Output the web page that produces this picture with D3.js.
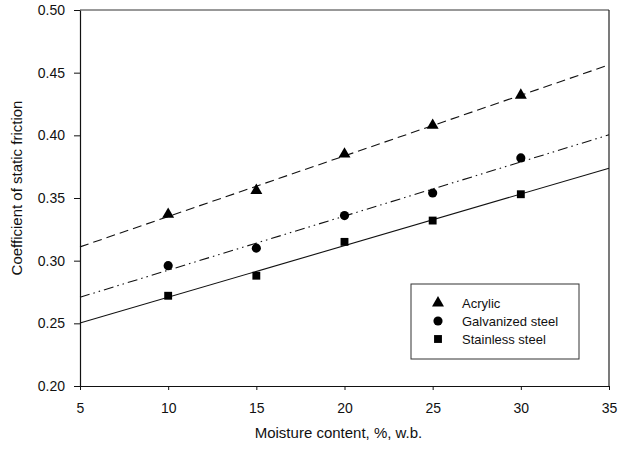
<!DOCTYPE html>
<html>
<head>
<meta charset="utf-8">
<script src="https://cdn.jsdelivr.net/npm/d3@7"></script>
<style>
  body { margin: 0; background: #fff; }
  text { font-family: "Liberation Sans", Arial, sans-serif; fill: #111; }
  .axis path, .axis line { stroke: #111; }
</style>
</head>
<body>
<div id="chart"></div>
<script>
// moisture content levels (% w.b.)
const moisture = [10, 15, 20, 25, 30];
// coefficient of static friction per surface
const acrylic = [0.337, 0.356, 0.385, 0.408, 0.432];
const galvanized = [0.296, 0.310, 0.336, 0.354, 0.382];
const stainless = [0.272, 0.288, 0.315, 0.332, 0.353];
const seriesNames = ['Acrylic', 'Galvanized steel', 'Stainless steel'];
const xTicks = [5, 10, 15, 20, 25, 30, 35];
const yTicks = [0.20, 0.25, 0.30, 0.35, 0.40, 0.45, 0.50];

const width = 618, height = 454;
const margin = { top: 10, right: 9, bottom: 68, left: 80 };
const innerW = width - margin.left - margin.right;
const innerH = height - margin.top - margin.bottom;

const svg = d3.select('#chart').append('svg')
  .attr('width', width)
  .attr('height', height);

const g = svg.append('g')
  .attr('transform', `translate(${margin.left},${margin.top})`);

const x = d3.scaleLinear().domain([5, 35]).range([0, innerW]);
const y = d3.scaleLinear().domain([0.20, 0.50]).range([innerH, 0]);

/* frame (top and right) */
g.append('line').attr('x1', 0).attr('x2', innerW).attr('y1', 0).attr('y2', 0)
  .attr('stroke', '#333').attr('stroke-width', 1);
g.append('line').attr('x1', innerW).attr('x2', innerW).attr('y1', 0).attr('y2', innerH)
  .attr('stroke', '#222').attr('stroke-width', 1.2);

/* axes */
g.append('g').attr('class', 'axis')
  .attr('transform', `translate(0,${innerH})`)
  .call(d3.axisBottom(x).tickValues(xTicks).tickSize(4).tickPadding(13).tickSizeOuter(0))
  .call((a) => a.selectAll('text').attr('font-size', 14));
g.append('g').attr('class', 'axis')
  .call(d3.axisLeft(y).tickValues(yTicks).tickFormat(d3.format('.2f')).tickSize(6).tickPadding(9).tickSizeOuter(0))
  .call((a) => a.selectAll('text').attr('font-size', 14));
g.selectAll('.axis path').attr('stroke-width', 1.2);

/* axis titles */
svg.append('text')
  .attr('x', margin.left + innerW / 2 - 6)
  .attr('y', 438)
  .attr('text-anchor', 'middle')
  .attr('font-size', 15)
  .text('Moisture content, %, w.b.');
svg.append('text')
  .attr('transform', `translate(22, ${margin.top + innerH / 2 - 10}) rotate(-90)`)
  .attr('text-anchor', 'middle')
  .attr('font-size', 15)
  .text('Coefficient of static friction');

/* least-squares fit lines over the full x range */
function fit(ys) {
  const mx = d3.mean(moisture), my = d3.mean(ys);
  const slope = d3.sum(moisture, (m, i) => (m - mx) * (ys[i] - my)) / d3.sum(moisture, (m) => (m - mx) ** 2);
  return (v) => my + slope * (v - mx);
}

const series = [
  { name: seriesNames[0], values: acrylic, symbol: d3.symbolTriangle, size: 62, dash: '9,5' },
  { name: seriesNames[1], values: galvanized, symbol: d3.symbolCircle, size: 66, dash: '10,4,1.5,4,1.5,4' },
  { name: seriesNames[2], values: stainless, symbol: d3.symbolSquare, size: 62, dash: null },
];

series.forEach((s) => {
  const f = fit(s.values);
  g.append('line')
    .attr('x1', x(5)).attr('y1', y(f(5)))
    .attr('x2', x(35)).attr('y2', y(f(35)))
    .attr('stroke', '#111')
    .attr('stroke-width', 1.1)
    .attr('stroke-dasharray', s.dash);

  g.selectAll(null)
    .data(s.values)
    .join('path')
    .attr('d', d3.symbol(s.symbol, s.size))
    .attr('transform', (d, i) => `translate(${x(moisture[i])},${y(d)})`)
    .attr('fill', '#000');
});

/* legend */
const legend = svg.append('g').attr('transform', 'translate(411,284)');
legend.append('rect')
  .attr('width', 168).attr('height', 75)
  .attr('fill', '#fff').attr('stroke', '#333').attr('stroke-width', 1);
series.forEach((s, i) => {
  const row = legend.append('g').attr('transform', `translate(0,${19 + i * 18})`);
  row.append('path')
    .attr('d', d3.symbol(s.symbol, s.size))
    .attr('transform', 'translate(27,0)')
    .attr('fill', '#000');
  row.append('text')
    .attr('x', 51).attr('y', 4.5)
    .attr('font-size', 13)
    .text(s.name);
});
</script>
</body>
</html>
